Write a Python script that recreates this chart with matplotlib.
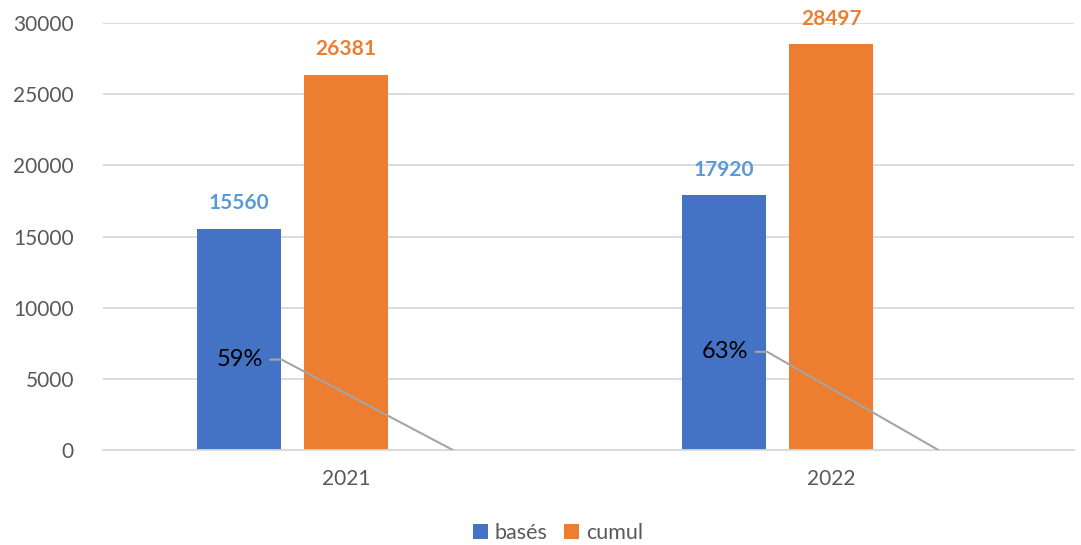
import matplotlib
matplotlib.use("Agg")
import matplotlib.pyplot as plt
import numpy as np

categories = ["2021", "2022"]
bases = [15560, 17920]
cumul = [26381, 28497]
pct_labels = ["59%", "63%"]
pct_hidden = [0, 0]
pct_label_y = [6350, 6900]

plt.rcParams['font.family'] = ['Lato', 'DejaVu Sans']

fig = plt.figure(figsize=(10.81, 5.45), dpi=100)
ax = fig.add_axes([0.0953, 0.1743, 0.8982, 0.7835])

x = np.arange(len(categories))
w = 0.173
off = 0.2206
blue = "#4472C4"
orange = "#ED7D31"

b1 = ax.bar(x - off, bases, w, color=blue, label="basés", zorder=2)
b2 = ax.bar(x, cumul, w, color=orange, label="cumul", zorder=2)
ax.bar(x + off, pct_hidden, w, color="none", zorder=2)

for xi, v in zip(x - off, bases):
    ax.annotate(str(v), (xi, v), xytext=(0, 11), textcoords="offset points",
                ha="center", va="bottom", fontsize=15, fontweight="bold", color="#5B9BD5")
for xi, v in zip(x, cumul):
    ax.annotate(str(v), (xi, v), xytext=(0, 11), textcoords="offset points",
                ha="center", va="bottom", fontsize=15, fontweight="bold", color=orange)

for xi, lab, ly in zip(x, pct_labels, pct_label_y):
    ax.text(xi - 0.218, ly, lab, ha="center", va="center", fontsize=17, color="black", zorder=4)
    ax.plot([xi - 0.155, xi - 0.132, xi + off], [ly, ly, 0], color="#A5A5A5", lw=1.5, zorder=3)

ax.set_xlim(-0.5, 1.5)
ax.set_ylim(0, 30000)
ax.set_yticks(np.arange(0, 30001, 5000))
ax.set_xticks(x)
ax.set_xticklabels(categories)
ax.yaxis.grid(True, color="#D9D9D9", lw=1.3, zorder=0)
ax.set_axisbelow(True)
for s in ["top", "right", "left"]:
    ax.spines[s].set_visible(False)
ax.spines["bottom"].set_color("#D9D9D9")
ax.spines["bottom"].set_linewidth(1.3)
ax.tick_params(axis="both", length=0, labelsize=15, labelcolor="#595959")
ax.tick_params(axis="y", pad=21)
ax.tick_params(axis="x", pad=14)

leg = fig.legend(handles=[b1, b2], loc="center", bbox_to_anchor=(0.516, 0.022),
                 ncol=2, frameon=False, fontsize=15.5, handlelength=0.7, handleheight=0.7,
                 handletextpad=0.3, columnspacing=0.8, labelcolor="#595959")

fig.savefig("out.png", dpi=100)
